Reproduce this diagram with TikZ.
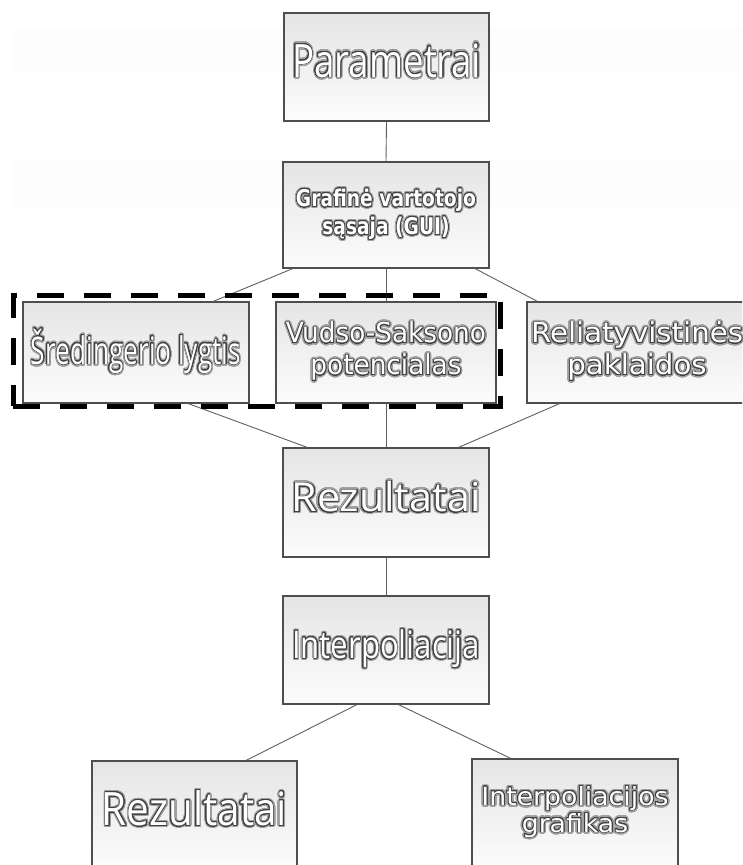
\documentclass[tikz,border=0pt]{standalone}
\usepackage{fontspec}
\usepackage{graphicx}
\usepackage{contour}
\usetikzlibrary{calc,shadows}

\newfontfamily\segoefont{Open Sans}
\newfontfamily\verdfont{DejaVu Sans}

\definecolor{boxtop}{RGB}{229,229,229}
\definecolor{boxbot}{RGB}{252,252,252}
\definecolor{edgegray}{RGB}{78,78,78}
\definecolor{wiregray}{RGB}{95,95,95}
\definecolor{bandgray}{RGB}{253,253,253}

% one line of white lettering with a dark outline and a soft grey halo
\newcommand{\glowline}[1]{%
  \rlap{\contourlength{2.2pt}\contour[32]{black!38}{\color{black!38}#1}}%
  {\contourlength{0.7pt}\contour[24]{black!75}{\color{white}#1}}}

% #1 font, #2 size, #3 line distance, #4 target width, #5 lines
\newcommand{\boxtext}[5]{%
  \resizebox{#4}{\height}{#1\fontsize{#2}{#3}\selectfont
    \begin{tabular}{@{}c@{}}#5\end{tabular}}}

\tikzset{
  card/.style={draw=edgegray, line width=1.2pt, top color=boxtop,
    bottom color=boxbot, inner sep=0pt, rectangle,
    drop shadow={opacity=0.2, shadow xshift=1pt, shadow yshift=-1.2pt}},
  wire/.style={draw=wiregray, line width=0.9pt},
  groupframe/.style={draw=black, line width=5pt, dash pattern=on 27pt off 20pt,
    rectangle, inner sep=0pt, fill=none}
}

\begin{document}
\begin{tikzpicture}[x=1pt,y=-1pt]
  \useasboundingbox (0,0) rectangle (742,865);
  \clip (0,0) rectangle (742,865);

  % faint horizontal bands behind the two top rows
  \fill[bandgray] (12,28) rectangle (742,72);
  \fill[bandgray] (12,160) rectangle (742,207);

  % boxes
  \node[card, minimum width=205pt, minimum height=108pt] (par) at (386.5,67)
    {\boxtext{\segoefont}{46}{50}{189pt}{\glowline{Parametrai}}};
  \node[card, minimum width=206pt, minimum height=106pt] (gui) at (386,215)
    {\boxtext{\verdfont\bfseries}{23}{28}{180pt}{\glowline{Grafinė vartotojo}\\\glowline{sąsaja (GUI)}}};
  \node[card, minimum width=226pt, minimum height=101pt] (sre) at (136,352.5)
    {\boxtext{\segoefont}{38}{40}{210pt}{\glowline{Šredingerio lygtis}}};
  \node[card, minimum width=220pt, minimum height=101pt] (vud) at (386,352.5)
    {\boxtext{\verdfont}{27.5}{32}{200pt}{\glowline{Vudso-Saksono}\\\glowline{potencialas}}};
  \node[card, minimum width=220pt, minimum height=101pt] (rel) at (637,352.5)
    {\boxtext{\verdfont}{27.5}{32}{212pt}{\glowline{Reliatyvistinės}\\\glowline{paklaidos}}};
  \node[card, minimum width=206pt, minimum height=109pt] (rez) at (386,502.5)
    {\boxtext{\segoefont}{40}{40}{189pt}{\glowline{Rezultatai}}};
  \node[card, minimum width=206pt, minimum height=108pt] (int) at (386,650)
    {\boxtext{\segoefont}{38}{40}{188pt}{\glowline{Interpoliacija}}};
  \node[card, minimum width=205pt, minimum height=108pt] (rez2) at (194.5,815)
    {\boxtext{\segoefont}{46}{46}{185pt}{\glowline{Rezultatai}}};
  \node[card, minimum width=206pt, minimum height=108pt] (gra) at (575,813)
    {\boxtext{\verdfont}{25}{26}{187pt}{\glowline{Interpoliacijos}\\\glowline{grafikas}}};

  % connectors between the boxes
  \begin{scope}[wire]
  \draw (par.south) -- (gui.north);
  \draw ($(gui.south west)!0.05!(gui.south east)$) -- ($(sre.north west)!0.84!(sre.north east)$);
  \draw (gui.south) -- (vud.north);
  \draw ($(gui.south west)!0.93!(gui.south east)$) -- ($(rel.north west)!0.05!(rel.north east)$);
  \draw ($(sre.south west)!0.73!(sre.south east)$) -- ($(rez.north west)!0.12!(rez.north east)$);
  \draw (vud.south) -- (rez.north);
  \draw ($(rel.south west)!0.15!(rel.south east)$) -- ($(rez.north west)!0.85!(rez.north east)$);
  \draw (rez.south) -- (int.north);
  \draw ($(int.south west)!0.36!(int.south east)$) -- ($(rez2.north west)!0.75!(rez2.north east)$);
  \draw ($(int.south west)!0.56!(int.south east)$) -- ($(gra.north west)!0.19!(gra.north east)$);
  \end{scope}

  % dashed frame grouping the two model boxes
  \node[groupframe, minimum width=487pt, minimum height=111pt] (grp) at (256.5,350.5) {};
\end{tikzpicture}
\end{document}
